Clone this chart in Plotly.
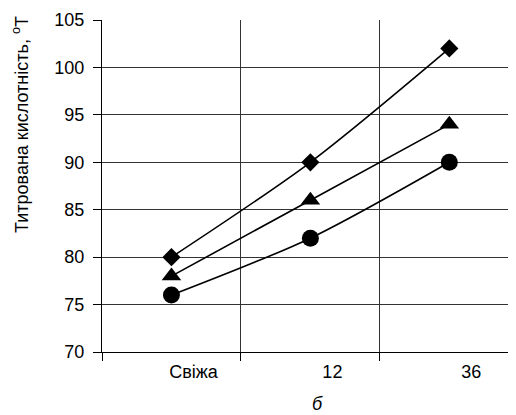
import plotly.graph_objects as go

categories = ["Свіжа", "12", "36"]
series_diamond = [80, 90, 102]
series_triangle = [78, 86, 94]
series_circle = [76, 82, 90]
y_ticks = [70, 75, 80, 85, 90, 95, 100, 105]

# page has an 8px body margin; figure sits at (8, 8)
W, H = 508, 407
L, R, T, B = 94, 0, 12, 63
FONT = "Liberation Sans, Arial, sans-serif"

fig = go.Figure()
for ys, sym, size in [(series_diamond, "diamond", 14),
                      (series_triangle, "triangle-up", 17),
                      (series_circle, "circle", 17)]:
    fig.add_trace(go.Scatter(
        x=categories, y=ys, mode="lines+markers",
        line=dict(color="black", width=1.6, shape="spline", smoothing=0.8),
        marker=dict(symbol=sym, size=size, color="black", line=dict(width=0)),
        showlegend=False, cliponaxis=False,
    ))

pw = W - L - R
ph = H - T - B
fig.update_layout(
    width=W, height=H,
    margin=dict(l=L, r=R, t=T, b=B, pad=0),
    paper_bgcolor="white", plot_bgcolor="white",
    font=dict(family=FONT, size=18, color="black"),
    xaxis=dict(
        type="category", range=[-0.5, 2.48], tickson="boundaries",
        ticks="outside", ticklen=8, tickwidth=1.2, tickcolor="black",
        showline=True, linecolor="black", linewidth=1.2,
        showgrid=True, gridcolor="#333333", gridwidth=1.2,
        zeroline=False, tickfont=dict(size=18),
        ticklabelstandoff=3, ticklabelshift=22,
    ),
    yaxis=dict(
        range=[70, 105], tickvals=y_ticks,
        ticks="outside", ticklen=8, tickwidth=1.2, tickcolor="black",
        showline=True, linecolor="black", linewidth=1.2,
        showgrid=True, gridcolor="#333333", gridwidth=1.2,
        zeroline=False, tickfont=dict(size=18),
        ticklabelstandoff=5,
    ),
    annotations=[
        dict(
            text="Титрована кислотність, <sup>о</sup>Т",
            textangle=-90, showarrow=False,
            xref="paper", yref="paper",
            x=(12 - L) / pw, y=(H - B - 117) / ph,
            xanchor="center", yanchor="middle",
            font=dict(size=18),
        ),
        dict(
            text="<i>б</i>", showarrow=False,
            xref="paper", yref="paper",
            x=(309 - L) / pw, y=((H - B) - 396) / ph,
            xanchor="center", yanchor="middle",
            font=dict(size=18),
        ),
    ],
)

fig.write_html("out.html")
